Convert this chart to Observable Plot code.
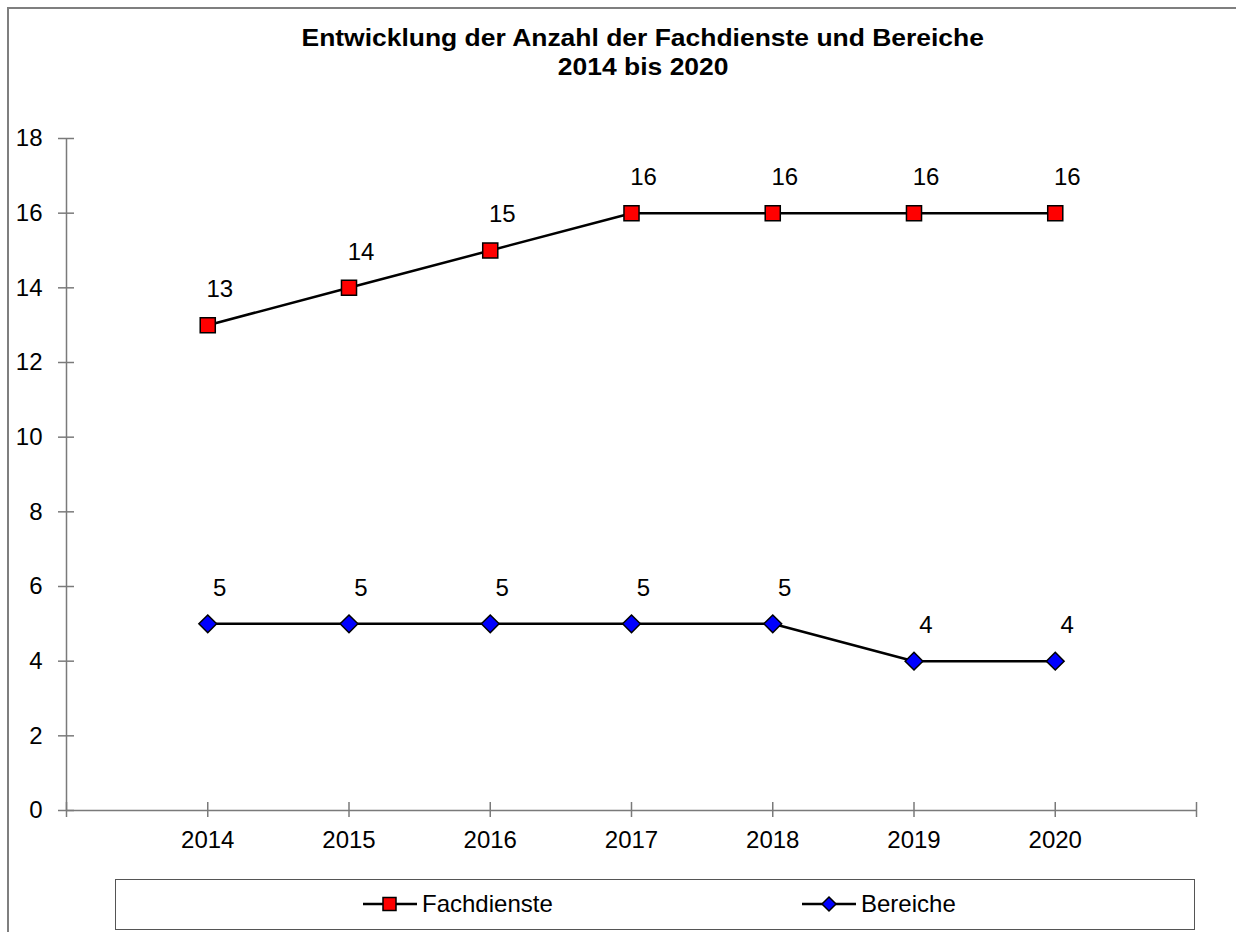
<!DOCTYPE html>
<html>
<head>
<meta charset="utf-8">
<script src="https://cdn.jsdelivr.net/npm/d3@7"></script>
<script src="https://cdn.jsdelivr.net/npm/@observablehq/plot@0.6"></script>
<style>
  html, body { margin: 0; padding: 0; background: #fff; }
  body { width: 1236px; height: 932px; overflow: hidden; position: relative; font-family: "Liberation Sans", Arial, sans-serif; }
  #frame { position: absolute; left: 7px; top: 7px; width: 1300px; height: 1000px; border-left: 2px solid #7f7f7f; border-top: 2px solid #7f7f7f; }
  #title { position: absolute; left: 0; top: 24px; width: 1286px; text-align: center; font-weight: bold; font-size: 23px; line-height: 29px; color: #000; }
  #title span { display: inline-block; transform: scaleX(1.15); transform-origin: center; }
  #chart { position: absolute; left: 0; top: 100px; }
  #legend { position: absolute; left: 115px; top: 879px; width: 1080px; height: 51px; border: 1.5px solid #555; box-sizing: border-box; }
  .item { position: absolute; top: 0; height: 48px; display: flex; align-items: center; font-size: 24px; }
  .item svg { margin-right: 5px; }
</style>
</head>
<body>
<div id="frame"></div>
<div id="title"><span>Entwicklung der Anzahl der Fachdienste und Bereiche</span><br><span>2014 bis 2020</span></div>
<div id="chart"></div>
<div id="legend"></div>
<script>
const years = [2014, 2015, 2016, 2017, 2018, 2019, 2020];
const fachdienste = [13, 14, 15, 16, 16, 16, 16];
const bereiche = [5, 5, 5, 5, 5, 4, 4];
const seriesNames = ["Fachdienste", "Bereiche"];
const yTicks = [0, 2, 4, 6, 8, 10, 12, 14, 16, 18];
const xDomain = [2013, 2021];
const xTickMarks = d3.range(2013, 2022);

const data = [
  ...years.map((y, i) => ({year: y, value: fachdienste[i], series: seriesNames[0]})),
  ...years.map((y, i) => ({year: y, value: bereiche[i], series: seriesNames[1]}))
];
const fd = data.filter(d => d.series === "Fachdienste");
const br = data.filter(d => d.series === "Bereiche");

const axisColor = "#7a7a7a";
const fontSize = 24;

const chart = Plot.plot({
  width: 1236,
  height: 770,
  marginLeft: 66,
  marginRight: 40,
  marginTop: 38,
  marginBottom: 60,
  style: {fontFamily: '"Liberation Sans", Arial, sans-serif', fontSize: fontSize + "px", color: "#000", background: "transparent", overflow: "visible"},
  x: {domain: xDomain, type: "linear"},
  y: {domain: [0, 18]},
  marks: [
    Plot.ruleY([0], {stroke: axisColor, strokeWidth: 1.5}),
    Plot.ruleX([xDomain[0]], {stroke: axisColor, strokeWidth: 1.5}),
    Plot.axisX({ticks: xTickMarks, tickSize: 15, dy: -8, tickFormat: () => "", stroke: axisColor, strokeWidth: 1.5, label: null}),
    Plot.axisX({ticks: years, tickSize: 0, tickPadding: 20, tickFormat: d => String(d), fontSize: fontSize, fill: "#000", label: null}),
    Plot.axisY({ticks: yTicks, tickSize: 16, dx: 8, tickFormat: () => "", stroke: axisColor, strokeWidth: 1.5, label: null}),
    Plot.axisY({ticks: yTicks, tickSize: 0, tickPadding: 24, fontSize: fontSize, fill: "#000", label: null}),
    Plot.line(fd, {x: "year", y: "value", stroke: "#000", strokeWidth: 2.5}),
    Plot.line(br, {x: "year", y: "value", stroke: "#000", strokeWidth: 2.5}),
    Plot.dot(fd, {x: "year", y: "value", symbol: "square", r: 8.5, fill: "#ff0000", stroke: "#000", strokeWidth: 1.5}),
    Plot.dot(br, {x: "year", y: "value", symbol: "diamond2", r: 8, fill: "#0000ff", stroke: "#000", strokeWidth: 1.5}),
    Plot.text(data, {x: "year", y: "value", text: d => String(d.value), dx: 12, dy: -36, fontSize: fontSize, fill: "#000"})
  ]
});
document.getElementById("chart").appendChild(chart);

const legend = document.getElementById("legend");
const legendItems = [
  {name: seriesNames[0], left: 247, symbol: "square"},
  {name: seriesNames[1], left: 686, symbol: "diamond"}
];
for (const it of legendItems) {
  const div = document.createElement("div");
  div.className = "item";
  div.style.left = it.left + "px";
  const ns = "http://www.w3.org/2000/svg";
  const svg = document.createElementNS(ns, "svg");
  svg.setAttribute("width", 54);
  svg.setAttribute("height", 20);
  const line = document.createElementNS(ns, "line");
  line.setAttribute("x1", 0); line.setAttribute("x2", 54);
  line.setAttribute("y1", 10); line.setAttribute("y2", 10);
  line.setAttribute("stroke", "#000"); line.setAttribute("stroke-width", 2.5);
  svg.appendChild(line);
  if (it.symbol === "square") {
    const r = document.createElementNS(ns, "rect");
    r.setAttribute("x", 20); r.setAttribute("y", 3.5); r.setAttribute("width", 13); r.setAttribute("height", 13);
    r.setAttribute("fill", "#ff0000"); r.setAttribute("stroke", "#000"); r.setAttribute("stroke-width", 1.5);
    svg.appendChild(r);
  } else {
    const p = document.createElementNS(ns, "path");
    p.setAttribute("d", "M27,3 L34,10 L27,17 L20,10 Z");
    p.setAttribute("fill", "#0000ff"); p.setAttribute("stroke", "#000"); p.setAttribute("stroke-width", 1.5);
    svg.appendChild(p);
  }
  div.appendChild(svg);
  const span = document.createElement("span");
  span.textContent = it.name;
  div.appendChild(span);
  legend.appendChild(div);
}
</script>
</body>
</html>
